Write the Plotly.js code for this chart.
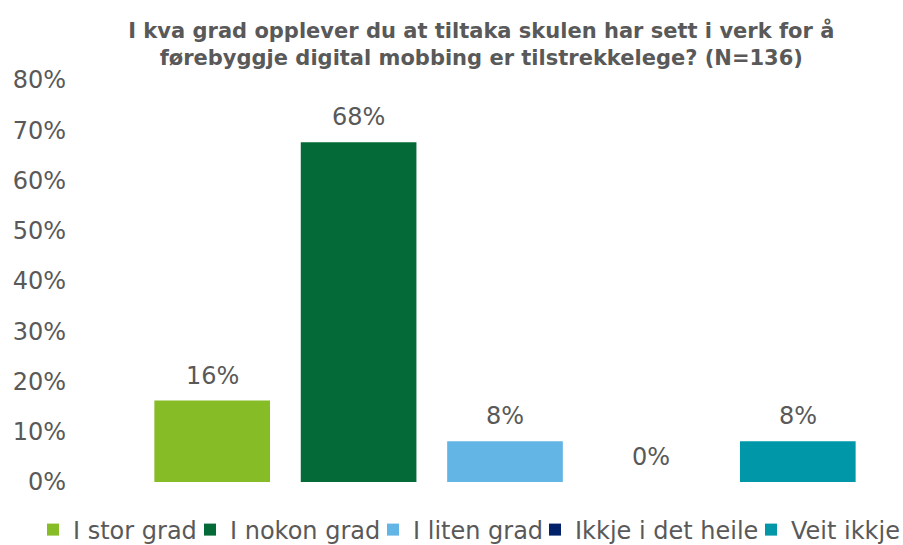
<!DOCTYPE html>
<html>
<head>
<meta charset="utf-8">
<script src="https://cdn.plot.ly/plotly-3.0.1.min.js"></script>
<style>html,body{margin:0;padding:0;background:#fff;overflow:hidden}#chart{width:903px;height:545px}</style>
</head>
<body>
<div id="chart"></div>
<script>
const categories = ["I stor grad", "I nokon grad", "I liten grad", "Ikkje i det heile", "Veit ikkje"];
const values = [0.162, 0.676, 0.081, 0, 0.081];
const colors = ["#86BC25", "#046A38", "#62B5E5", "#012169", "#0097A9"];
const yTickVals = [0, 0.1, 0.2, 0.3, 0.4, 0.5, 0.6, 0.7, 0.8];
const yTickText = ["0%", "10%", "20%", "30%", "40%", "50%", "60%", "70%", "80%"];
const titleText = "<b>I kva grad opplever du at tiltaka skulen har sett i verk for å<br>førebyggje digital mobbing er tilstrekkelege? (N=136)</b>";

const font = "DejaVu Sans, Verdana, sans-serif";
const grey = "#595959";

// legend entry text start positions (px) in the reference
const legendTextStart = [70, 227, 410, 572, 788];
const marginL = 139, plotW = 903 - 139 - 32, plotH = 545 - 80 - 63;

const legendNames = categories.map((c, i) => i === 0 ? "legend" : "legend" + (i + 1));

const traces = categories.map((c, i) => ({
  type: "bar",
  name: c,
  x: [c],
  y: [values[i]],
  legend: legendNames[i],
  marker: {color: colors[i]},
  hoverinfo: "skip"
}));

const annotations = categories.map((c, i) => ({
  x: c,
  y: values[i],
  xref: "x",
  yref: "y",
  text: Math.round(values[i] * 100) + "%",
  showarrow: false,
  xanchor: "center",
  yanchor: "middle",
  yshift: 25,
  font: {family: font, size: 24, color: grey}
}));

const layout = {
  width: 903,
  height: 545,
  margin: {l: marginL, r: 32, t: 80, b: 63, autoexpand: false},
  paper_bgcolor: "#ffffff",
  plot_bgcolor: "#ffffff",
  barmode: "overlay",
  bargap: 0.21,
  font: {family: font, color: grey},
  title: {
    text: titleText,
    font: {family: font, size: 21, color: grey},
    x: 0.533, xanchor: "center",
    y: 0.931, yanchor: "middle"
  },
  xaxis: {
    categoryorder: "array",
    categoryarray: categories,
    showticklabels: false,
    showgrid: false,
    zeroline: false,
    showline: false,
    ticks: ""
  },
  yaxis: {
    range: [0, 0.8],
    tickvals: yTickVals,
    ticktext: yTickText,
    showgrid: false,
    zeroline: false,
    showline: false,
    ticks: "",
    tickfont: {family: font, size: 24, color: grey},
    ticklabelstandoff: 72
  },
  annotations: annotations,
  showlegend: true
};

legendNames.forEach((ln, i) => {
  layout[ln] = {
    orientation: "h",
    x: (legendTextStart[i] - 37 - marginL) / plotW, xanchor: "left",
    y: -(530 - 482) / plotH, yanchor: "middle",
    font: {family: font, size: 24, color: grey},
    itemwidth: 30,
    bgcolor: "rgba(0,0,0,0)"
  };
});

Plotly.newPlot("chart", traces, layout, {displayModeBar: false, staticPlot: true});
</script>
</body>
</html>
